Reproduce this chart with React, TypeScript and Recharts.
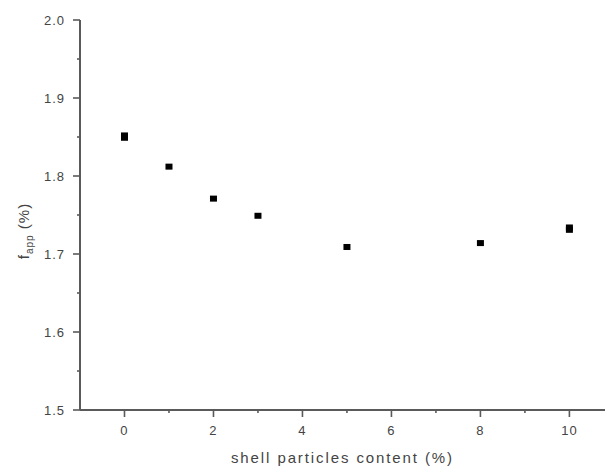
import { ScatterChart, Scatter, XAxis, YAxis, Label } from 'recharts';

// shell particle content (%) and apparent f (%);
// the doubled points at 0 and 10 are two overlapping measurements
const contents = [0, 0, 1, 2, 3, 5, 8, 10, 10];
const fApp = [1.852, 1.849, 1.812, 1.771, 1.749, 1.709, 1.714, 1.734, 1.731];

const xTicks = [0, 1, 2, 3, 4, 5, 6, 7, 8, 9, 10];
const yTicks = [1.5, 1.55, 1.6, 1.65, 1.7, 1.75, 1.8, 1.85, 1.9, 1.95, 2.0];

const data = contents.map((x, i) => ({ x, y: fApp[i] }));

const AXIS = '#5a5a5a';
const TEXT = '#444';
const FONT = '"Liberation Sans", Arial, sans-serif';

function XTick({ x, y, payload }: any) {
  const major = payload.value % 2 === 0;
  return (
    <g>
      <line x1={x} y1={y} x2={x} y2={y + (major ? 7 : 3)} stroke={AXIS} strokeWidth={1.6} />
      {major && (
        <text x={x} y={y + 25} textAnchor="middle" fill={TEXT} fontSize={13} fontFamily={FONT} letterSpacing={1}>
          {payload.value}
        </text>
      )}
    </g>
  );
}

function YTick({ x, y, payload }: any) {
  const v = payload.value;
  const major = Math.abs(v * 10 - Math.round(v * 10)) < 1e-6;
  return (
    <g>
      <line x1={x} y1={y} x2={x - (major ? 7 : 3)} y2={y} stroke={AXIS} strokeWidth={1.6} />
      {major && (
        <text x={x - 15} y={y + 5} textAnchor="end" fill={TEXT} fontSize={13} fontFamily={FONT} letterSpacing={1}>
          {v.toFixed(1)}
        </text>
      )}
    </g>
  );
}

const Marker = ({ cx, cy }: any) => <rect x={cx - 3.5} y={cy - 3} width={7} height={6} fill="#000" />;

export default function App() {
  return (
    <div style={{ position: 'absolute', left: 0, top: 0, background: '#fff' }}>
      <ScatterChart width={605} height={469} margin={{ top: 20, right: 0, bottom: 0, left: 0 }}>
        <XAxis
          type="number"
          dataKey="x"
          domain={[-1, 10.8]}
          ticks={xTicks}
          interval={0}
          allowDataOverflow
          height={59}
          tickSize={0}
          tickMargin={0}
          tickLine={false}
          tick={<XTick />}
          axisLine={{ stroke: AXIS, strokeWidth: 2 }}
        >
          <Label
            content={({ viewBox }: any) => (
              <text
                x={viewBox.x + viewBox.width / 2}
                y={viewBox.y + 53}
                textAnchor="middle"
                fill={TEXT}
                fontSize={15}
                fontFamily={FONT}
                letterSpacing={1.9}
              >
                shell particles content (%)
              </text>
            )}
          />
        </XAxis>
        <YAxis
          type="number"
          dataKey="y"
          domain={[1.5, 2.0]}
          ticks={yTicks}
          interval={0}
          width={80}
          tickSize={0}
          tickMargin={0}
          tickLine={false}
          tick={<YTick />}
          axisLine={{ stroke: AXIS, strokeWidth: 2 }}
        >
          <Label
            content={() => (
              <text
                transform="translate(29, 231) rotate(-90)"
                textAnchor="middle"
                fill={TEXT}
                fontSize={15}
                fontFamily={FONT}
                letterSpacing={1}
              >
                f<tspan fontSize={10} dy={4}>app</tspan>
                <tspan dy={-4}> (%)</tspan>
              </text>
            )}
          />
        </YAxis>
        <Scatter data={data} shape={<Marker />} isAnimationActive={false} />
      </ScatterChart>
    </div>
  );
}
